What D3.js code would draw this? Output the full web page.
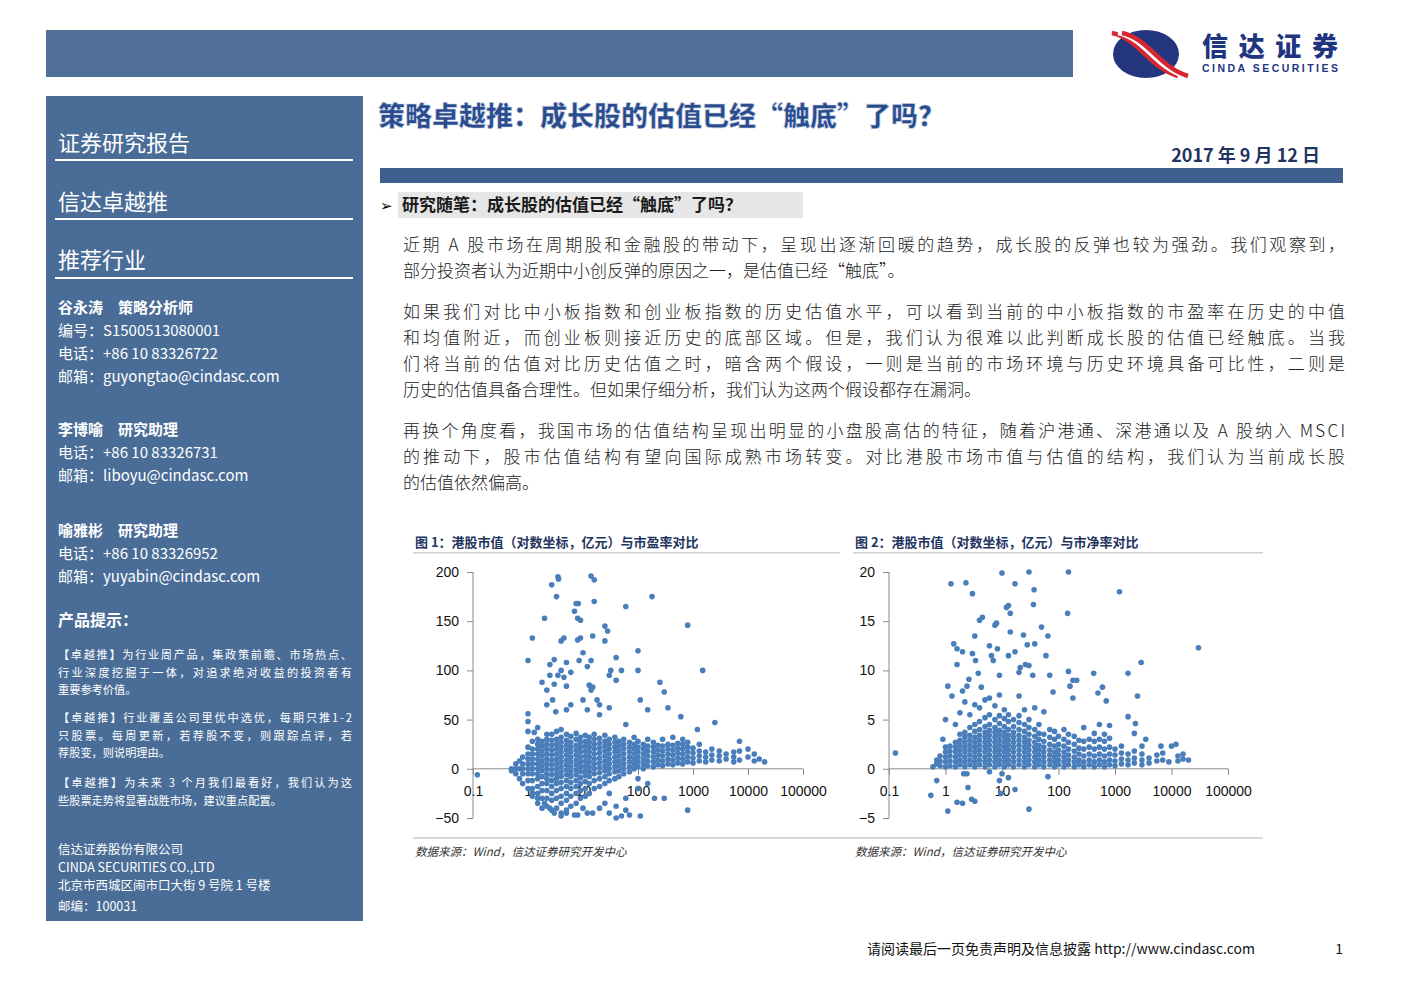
<!DOCTYPE html>
<html><head><meta charset="utf-8">
<script src="https://cdn.jsdelivr.net/npm/d3@7/dist/d3.min.js"></script>
<style>body{margin:0;background:#fff}svg{display:block}</style>
</head><body><svg id="pg" width="1403" height="992"></svg>
<script>
// ---------- DATA ----------
const xTicks = [0.1,1,10,100,1000,10000,100000];
const peTicks = [200,150,100,50,0,-50];
const pbTicks = [20,15,10,5,0,-5];
// Chart 1: market cap (亿元) vs PE — sparse points
const peSparse = [[0.12,-6],[1.0,110],[1.2,133],[2.0,153],[2.7,187],[3.5,195],[3.6,193],[3.3,175],[2.5,106],[3.0,111],[1.0,56],[1.0,48],[1.0,38],[1.3,37],[1.5,42],[1.8,88],[2.2,80],[2.5,95],[3.0,86],[3.5,95],[4,100],[4.5,93],[5,84],[2.2,65],[2.8,70],[3.2,58],[4,130],[4.5,133],[5,108],[6,98],[7,160],[8,153],[7.5,168],[8.2,168],[9,151],[9,133],[8,131],[10,118],[8.5,110],[12,104],[14,110],[15,135],[14,196],[16,170],[16,192],[13,85],[14,80],[15,83],[18,70],[20,55],[25,130],[25,145],[28,140],[30,95],[32,100],[40,90],[50,100],[40,113],[60,165],[100,120],[100,100],[110,70],[150,60],[180,175],[250,88],[300,78],[350,62],[600,53],[800,146],[1500,100],[2500,47],[1200,40],[60,45],[30,62],[20,65],[12,60],[10,70],[6,65],[5,60],[1.2,-25],[1.5,-30],[2,-35],[2.5,-40],[3,-45],[4,-48],[5,-45],[7,-47],[8,-47],[10,-40],[12,-45],[15,-45],[20,-40],[25,-35],[30,-45],[40,-50],[50,-48],[70,-47],[100,-20],[150,-15],[200,-30],[300,-30],[800,-42],[60,-30],[40,-38],[30,-25],[100,-10],[110,-48],[60,-42]];
// Chart 1 dense cluster: [market cap, [PE values]]
const peCluster = [[0.5,[0,-2]],[0.6,[-5,0,5]],[0.7,[-10,0,8]],[0.8,[-15,-5,0,5,12]],[1,[-20,-12,-5,0,5,10,15,22]],[1.2,[-28,-20,-12,-5,0,5,10,15,20,28]],[1.5,[-35,-25,-18,-10,-5,0,5,10,15,20,25,30]],[1.8,[-40,-30,-22,-15,-8,-2,3,8,13,18,23,28]],[2.2,[-38,-30,-22,-15,-10,-5,0,5,10,15,20,25,30,35]],[2.7,[-42,-32,-25,-18,-12,-6,-1,4,9,14,19,24,29,35]],[3.3,[-40,-30,-22,-15,-10,-5,0,5,10,15,20,25,30,38]],[4,[-45,-35,-28,-20,-14,-8,-3,2,7,12,17,22,27,32,40]],[5,[-42,-32,-25,-18,-12,-6,-1,4,9,14,19,24,29,35]],[6,[-38,-28,-20,-14,-8,-3,2,7,12,17,22,27,33]],[7.5,[-35,-25,-18,-12,-6,-1,4,9,14,19,24,30,36]],[9,[-30,-22,-15,-9,-3,2,7,12,17,22,27,32]],[11,[-28,-20,-13,-7,-2,3,8,13,18,23,28,34]],[13,[-25,-15,-8,-3,2,7,12,17,22,27,32]],[16,[-20,-12,-5,0,5,10,15,20,25,30,35]],[20,[-18,-10,-4,1,6,11,16,21,26,31]],[25,[-15,-8,-2,3,8,13,18,23,28,34]],[30,[-12,-5,0,5,10,15,20,25,30]],[38,[-10,-3,2,7,12,17,22,27,32]],[45,[-8,-2,3,8,13,18,23,28]],[55,[-5,0,5,10,15,20,25,30]],[70,[-3,2,7,12,17,22,27]],[85,[0,5,10,15,20,25,32]],[100,[2,7,12,17,22,28]],[125,[0,5,10,15,20,25]],[150,[3,8,13,18,23,30]],[190,[2,7,12,17,22,27]],[230,[4,9,14,19,24]],[280,[3,8,13,18,23,30]],[350,[5,10,15,20,25]],[430,[4,9,14,19,24,32]],[530,[6,11,16,21,26]],[650,[5,10,15,20,25,30]],[800,[7,12,17,22,27]],[1000,[6,11,16,21]],[1300,[8,13,18,25]],[1700,[7,12,17]],[2200,[9,14,20]],[3000,[8,13,18]],[4000,[10,15]],[5500,[7,12,17]],[7000,[9,18,28]],[10000,[12,20]],[13000,[8,15]],[16000,[10]],[20000,[7]]];
// Chart 2: market cap vs PB — sparse points
const pbSparse = [[0.13,1.6],[0.6,0.2],[0.55,-2.7],[0.7,-1.2],[0.9,3],[1.0,5],[1.1,-4.3],[1.25,18.8],[2.3,18.9],[3.0,17.8],[1.4,12.7],[1.6,12.2],[2,11.9],[1.6,10.6],[1.1,8.4],[1.3,7.4],[2.0,7.9],[2.4,8.4],[2.6,9.1],[3,11.7],[3.3,13.5],[3.4,11],[4,15.1],[4.5,15.4],[3.8,9.7],[4.3,8.3],[6,12.5],[6.5,11.5],[7.5,14.6],[8,14.8],[8.3,12.2],[7,11],[9,9.5],[10,19.9],[12,16.4],[13,16.6],[14,15.8],[14,13.9],[17,18.8],[13,11.5],[17,11.9],[20,9.8],[21,10.3],[24,13.6],[28,12.6],[26,10.6],[30,10.5],[30,20],[37,18.2],[36,16.7],[38,12.7],[35,9.5],[50,14.4],[65,13.5],[60,11.5],[70,9.5],[80,7.8],[150,20],[145,15.8],[150,9.9],[160,8.4],[180,9],[210,9],[180,7.2],[420,9.7],[500,7.7],[600,8.3],[700,6.9],[1200,18],[1700,9.7],[2500,7.4],[2900,10.8],[30000,12.3],[1700,5.3],[2300,4.6],[2200,3.6],[3500,3],[10000,2.3],[12000,2.5],[6500,2.3],[2.1,-0.5],[2.4,-0.5],[2.5,-1.9],[2.9,-3.1],[3.3,-3.3],[1.6,-3.4],[2.0,-3.5],[9,-1.2],[9.5,-2.5],[13,-0.9],[17,-2.1],[30,-4.1],[65,-0.8],[10,-0.5],[6,-0.3]];
// Chart 2 dense cluster: [market cap, [PB values]]
const pbCluster = [[0.7,[0.5,0.9]],[0.8,[0.3,0.8,1.3]],[1,[0.2,0.7,1.2,1.7,2.2]],[1.2,[0.3,0.8,1.3,1.8,2.3]],[1.5,[0.2,0.7,1.2,1.7,2.2,2.7,4.5]],[1.8,[0.4,0.9,1.4,1.9,2.4,2.9,3.5,5.7]],[2.2,[0.2,0.7,1.2,1.7,2.2,2.7,3.2,3.7,6.8]],[2.7,[0.4,0.9,1.4,1.9,2.4,2.9,3.4,4.2,5.5]],[3.3,[0.2,0.7,1.2,1.7,2.2,2.7,3.2,3.8,4.5,6.5]],[4,[0.4,0.9,1.4,1.9,2.4,2.9,3.4,4,4.8,6.2]],[5,[0.2,0.7,1.2,1.7,2.2,2.7,3.2,3.7,4.3,5.2,7]],[6,[0.4,0.9,1.4,1.9,2.4,2.9,3.4,3.9,4.5,5.5,7.2]],[7.5,[0.2,0.7,1.2,1.7,2.2,2.7,3.2,3.7,4.2,5,6.4]],[9,[0.4,0.9,1.4,1.9,2.4,2.9,3.4,3.9,4.6,5.4,7.5]],[11,[0.2,0.7,1.2,1.7,2.2,2.7,3.2,3.7,4.3,5.1,6]],[13,[0.4,0.9,1.4,1.9,2.4,2.9,3.4,4,4.8,5.5]],[16,[0.2,0.7,1.2,1.7,2.2,2.7,3.2,3.7,4.3,5]],[20,[0.4,0.9,1.4,1.9,2.4,2.9,3.4,4,4.7,5.4,7.4]],[25,[0.2,0.7,1.2,1.7,2.2,2.7,3.2,3.8,4.5,6]],[30,[0.4,0.9,1.4,1.9,2.4,2.9,3.5,4.2,5]],[38,[0.2,0.7,1.2,1.7,2.2,2.7,3.3,4,6.2]],[45,[0.4,0.9,1.4,1.9,2.4,3,3.6,4.5]],[55,[0.2,0.7,1.2,1.7,2.2,2.8,3.5,5.8]],[70,[0.4,0.9,1.4,1.9,2.5,3.2,4]],[85,[0.2,0.7,1.2,1.7,2.3,3,3.8]],[100,[0.4,0.9,1.4,1.9,2.5,3.3]],[125,[0.2,0.7,1.2,1.7,2.3,3,4]],[150,[0.4,0.9,1.4,2,2.7,3.5]],[190,[0.2,0.7,1.2,1.8,2.5,3.3]],[230,[0.4,0.9,1.5,2.1,2.9]],[280,[0.2,0.7,1.3,2,2.8,4.2]],[350,[0.4,0.9,1.5,2.2,3]],[430,[0.2,0.7,1.3,2,2.8,3.6]],[530,[0.4,0.9,1.5,2.2,3,4.5]],[650,[0.2,0.7,1.3,2,2.8,3.5]],[800,[0.4,0.9,1.5,2.2,3.1,4.4]],[1000,[0.3,0.8,1.4,2]],[1300,[0.5,1,1.6,2.3]],[1700,[0.4,0.9,1.5]],[2200,[0.6,1.1,1.8]],[3000,[0.4,0.9,1.5,2.3]],[4000,[0.6,1.1]],[5500,[0.8,1.4]],[7000,[0.9,1.6]],[9000,[0.7]],[13000,[0.8,1.3]],[16000,[1,1.5]],[20000,[0.9]]];

// ---------- PAGE ----------
const svg = d3.select('#pg');
const C = '#4a6d97', F = '"Noto Sans CJK SC","Noto Sans",sans-serif', A = '"Liberation Sans",Arial,sans-serif';
svg.append('rect').attr('x',46).attr('y',30).attr('width',1027).attr('height',47).attr('fill','#4f6f99');
// logo
const lg = svg.append('g');
lg.append('ellipse').attr('cx',1146).attr('cy',54).attr('rx',33).attr('ry',24).attr('fill','#24357f');
[[0,'#d7262f'],[6,'#fff'],[10,'#d7262f']].forEach(([o,c])=>lg.append('path').attr('d',`M${1112+o},${33} C${1138+o},${38} ${1150+o},${68} ${1178+o},${76}`).attr('stroke',c).attr('stroke-width',4.5).attr('fill','none'));
svg.append('text').attr('x',1202).attr('y',56).attr('font-family',F).attr('font-weight',900).attr('font-size',26).attr('fill','#1f3580').attr('textLength',136).text('信达证券');
svg.append('text').attr('x',1202).attr('y',72).attr('font-family',A).attr('font-weight',700).attr('font-size',10.5).attr('fill','#1f3580').attr('textLength',136).text('CINDA SECURITIES');
// sidebar
svg.append('rect').attr('x',46).attr('y',96).attr('width',317).attr('height',825).attr('fill',C);
function t(x,y,s,txt,o={}){const e=svg.append('text').attr('x',x).attr('y',y).attr('font-size',s).attr('font-family',o.f||F).attr('fill',o.c||'#fff').attr('font-weight',o.w||400).text(txt);if(o.a)e.attr('text-anchor',o.a);if(o.st)e.attr('font-style',o.st);if(o.tl)e.attr('textLength',o.tl).attr('lengthAdjust','spacing');return e;}
[['证券研究报告',151,159],['信达卓越推',210,218],['推荐行业',268,277]].forEach(([s,y,l])=>{t(58,y,22,s);svg.append('rect').attr('x',55).attr('y',l).attr('width',298).attr('height',2).attr('fill','#fff');});
const au=[['谷永涛　策略分析师',313,['编号：S1500513080001','电话：+86 10 83326722','邮箱：guyongtao@cindasc.com']],['李博喻　研究助理',435,['电话：+86 10 83326731','邮箱：liboyu@cindasc.com']],['喻雅彬　研究助理',536,['电话：+86 10 83326952','邮箱：yuyabin@cindasc.com']]];
au.forEach(([h,y,ls])=>{t(58,y,15,h,{w:700});ls.forEach((l,i)=>t(58,y+23*(i+1),15,l));});
t(58,626,16,'产品提示：',{w:700});
const small=[[659,['【卓越推】为行业周产品，集政策前瞻、市场热点、','行业深度挖掘于一体，对追求绝对收益的投资者有','重要参考价值。']],[722,['【卓越推】行业覆盖公司里优中选优，每期只推1-2','只股票。每周更新，若荐股不变，则跟踪点评，若','荐股变，则说明理由。']],[787,['【卓越推】为未来 3 个月我们最看好，我们认为这','些股票走势将显著战胜市场，建议重点配置。']]];
small.forEach(([y,ls])=>ls.forEach((l,i)=>t(58,y+17.5*i,11.2,l,{tl:i<ls.length-1?294:null})));
['信达证券股份有限公司','CINDA SECURITIES CO.,LTD','北京市西城区闹市口大街 9 号院 1 号楼'].forEach((l,i)=>t(58,854+18*i,12.5,l));
t(58,911,12.5,'邮编：100031');
// title
t(378,126,27,'策略卓越推：成长股的估值已经“触底”了吗？',{c:'#2a4b8c',w:900}).attr('stroke','#c9d3e6').attr('stroke-width',0.6);
t(1320,162,18,'2017 年 9 月 12 日',{c:'#1f3560',w:700,a:'end'});
svg.append('rect').attr('x',380).attr('y',168).attr('width',963).attr('height',15).attr('fill','#3f5f8e');
svg.append('rect').attr('x',398).attr('y',192).attr('width',405).attr('height',26).attr('fill','#e6e6e6');
t(380,211,15,'➢',{c:'#000'});
t(402,211,17,'研究随笔：成长股的估值已经“触底”了吗？',{c:'#1a1a1a',w:700});
const paras=[[251,['近期 A 股市场在周期股和金融股的带动下，呈现出逐渐回暖的趋势，成长股的反弹也较为强劲。我们观察到，','部分投资者认为近期中小创反弹的原因之一，是估值已经“触底”。']],[318,['如果我们对比中小板指数和创业板指数的历史估值水平，可以看到当前的中小板指数的市盈率在历史的中值','和均值附近，而创业板则接近历史的底部区域。但是，我们认为很难以此判断成长股的估值已经触底。当我','们将当前的估值对比历史估值之时，暗含两个假设，一则是当前的市场环境与历史环境具备可比性，二则是','历史的估值具备合理性。但如果仔细分析，我们认为这两个假设都存在漏洞。']],[437,['再换个角度看，我国市场的估值结构呈现出明显的小盘股高估的特征，随着沪港通、深港通以及 A 股纳入 MSCI','的推动下，股市估值结构有望向国际成熟市场转变。对比港股市场市值与估值的结构，我们认为当前成长股','的估值依然偏高。']]];
paras.forEach(([y,ls])=>ls.forEach((l,i)=>t(403,y+26*i,17,l,{c:'#222',w:300,tl:i<ls.length-1?942:null})));
// footer
t(1255,954,14,'请阅读最后一页免责声明及信息披露 http://www.cindasc.com',{c:'#111',a:'end'});
t(1343,954,14,'1',{c:'#111',a:'end'});
svg.append('rect').attr('x',413).attr('y',837).attr('width',850).attr('height',2).attr('fill','#d8d8d8');

// ---------- CHARTS ----------
function chart(o){
  const x=d3.scaleLog().domain([0.1,100000]).range([o.x0,o.x1]);
  const y=d3.scaleLinear().domain([o.ymin,o.ymax]).range([818,572]);
  t(o.tx,547,13,o.title,{c:'#1f3560',w:700});
  svg.append('rect').attr('x',o.tx-2).attr('y',552).attr('width',o.lw).attr('height',1.5).attr('fill','#d0d0d0');
  t(o.tx,856,11.5,'数据来源：Wind，信达证券研究开发中心',{c:'#333',st:'italic'});
  const g=svg.append('g');
  const ya=g.append('g').attr('transform',`translate(${o.x0},0)`).call(d3.axisLeft(y).tickValues(o.ticks).tickSize(6).tickFormat(d3.format('d')));
  const xa=g.append('g').attr('transform',`translate(0,${y(0)})`).call(d3.axisBottom(x).tickValues(xTicks).tickSize(6).tickFormat(d=>String(d)));
  [ya,xa].forEach(a=>{a.selectAll('path,line').attr('stroke','#8a8a8a');a.selectAll('text').attr('font-family',A).attr('font-size',14).attr('fill','#111');});
  ya.select('.domain').attr('d',`M0,${y(o.ymin)}V${y(o.ymax)}`);
  ya.selectAll('.tick line').attr('x2',-6);
  ya.selectAll('text').attr('x',-14);
  xa.select('.domain').attr('d',`M${o.x0},0H${o.x1}`);
  xa.selectAll('text').attr('dy','1.3em');
  const pts=o.sparse.concat(o.cluster.flatMap(([m,vs])=>vs.map(v=>[m,v])));
  g.append('g').selectAll('circle').data(pts).join('circle').attr('cx',d=>x(d[0])).attr('cy',d=>y(d[1])).attr('r',2.8).attr('fill','#4a7ebb');
}
chart({x0:473,x1:803,ymin:-50,ymax:200,ticks:peTicks,tx:415,lw:427,title:'图 1：港股市值（对数坐标，亿元）与市盈率对比',sparse:peSparse,cluster:peCluster});
chart({x0:889,x1:1228,ymin:-5,ymax:20,ticks:pbTicks,tx:855,lw:410,title:'图 2：港股市值（对数坐标，亿元）与市净率对比',sparse:pbSparse,cluster:pbCluster});
</script></body></html>
